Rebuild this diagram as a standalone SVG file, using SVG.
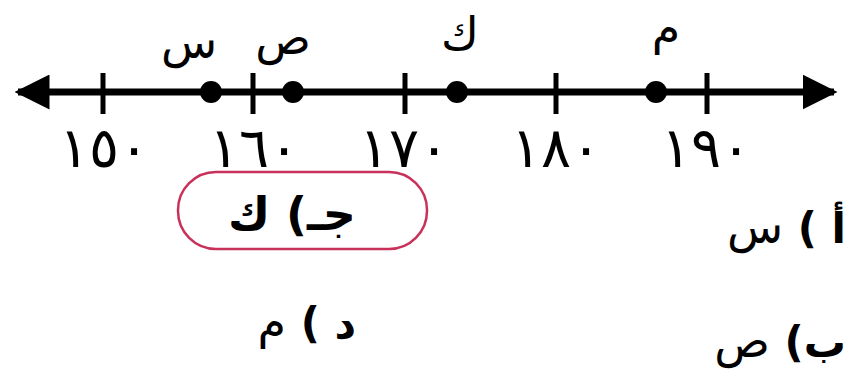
<svg xmlns="http://www.w3.org/2000/svg" width="851" height="372" viewBox="0 0 851 372">
<style>
.ar{font-family:"DejaVu Sans","Noto Sans",sans-serif;fill:#000}
.lbl{font-size:46px;text-anchor:middle}
.num{font-size:56px;text-anchor:middle;letter-spacing:2px}
.opt{font-size:46px;direction:rtl}
.b{font-weight:bold;font-size:42px}
.tick{stroke:#000;stroke-width:5}
.dot{fill:#000}
</style>
<defs>
<marker id="ah" viewBox="0 0 10 10" refX="9" refY="5" markerWidth="5" markerHeight="5" orient="auto-start-reverse" markerUnits="strokeWidth">
<path d="M0,0 L10,5 L0,10 z" fill="#000"/>
</marker>
</defs>
<rect width="851" height="372" fill="#fff"/>
<g id="connectors">
<line x1="18" y1="92" x2="834" y2="92" stroke="#000" stroke-width="7" marker-start="url(#ah)" marker-end="url(#ah)"/>
</g>
<g id="ticks">
<line class="tick" x1="103" y1="73" x2="103" y2="114"/>
<line class="tick" x1="253" y1="73" x2="253" y2="114"/>
<line class="tick" x1="405" y1="73" x2="405" y2="114"/>
<line class="tick" x1="556" y1="73" x2="556" y2="114"/>
<line class="tick" x1="707" y1="73" x2="707" y2="114"/>
</g>
<g id="numbers">
<text class="ar num" x="104" y="167">١٥٠</text>
<text class="ar num" x="254" y="167">١٦٠</text>
<text class="ar num" x="404" y="167">١٧٠</text>
<text class="ar num" x="556" y="167">١٨٠</text>
<text class="ar num" x="706" y="167">١٩٠</text>
</g>
<g id="point-s"><circle class="dot" cx="211" cy="92" r="11"/><text class="ar lbl" x="189" y="58">س</text></g>
<g id="point-sad"><circle class="dot" cx="293" cy="92" r="11"/><text class="ar lbl" x="283" y="54">ص</text></g>
<g id="point-k"><circle class="dot" cx="457" cy="92" r="11"/><text class="ar lbl" x="460" y="50">ك</text></g>
<g id="point-m"><circle class="dot" cx="656" cy="92" r="11"/><text class="ar lbl" x="666" y="44">م</text></g>
<g id="option-c">
<rect x="178" y="172" width="249" height="77" rx="38" fill="none" stroke="#c8325a" stroke-width="2.5"/>
<text class="ar opt" x="356" y="230" font-weight="bold" font-size="48">جـ) ك</text>
</g>
<g id="option-a"><text class="ar opt" x="846" y="243"><tspan class="b">أ )</tspan> س</text></g>
<g id="option-b"><text class="ar opt" x="846" y="357"><tspan class="b">ب)</tspan> ص</text></g>
<g id="option-d"><text class="ar opt" x="356" y="338"><tspan class="b">د )</tspan> م</text></g>
</svg>
